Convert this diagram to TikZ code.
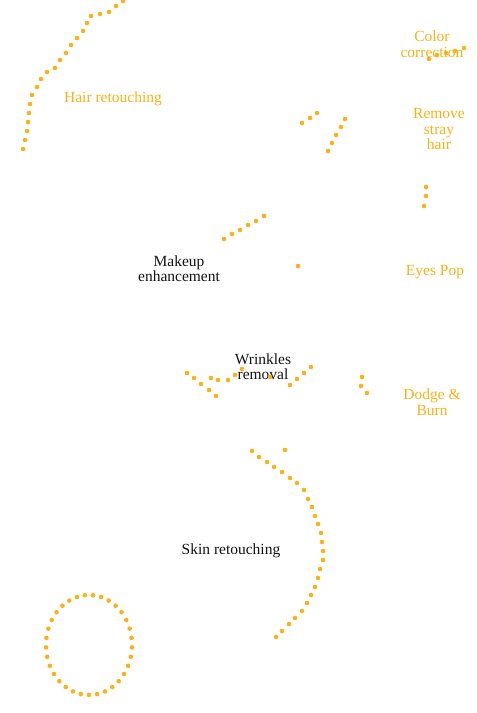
\documentclass[tikz,border=0pt]{standalone}
\usepackage{fontspec}
\setmainfont{Liberation Serif}
\usepackage{tikz}
\usetikzlibrary{positioning}
\definecolor{retouchorange}{RGB}{251,178,24}
\definecolor{labelblack}{RGB}{20,20,20}
\tikzset{
  dotmark/.style={fill=retouchorange},
  orangelabel/.style={text=retouchorange,inner sep=0pt,align=center,font=\fontsize{15.5}{15.5}\selectfont},
  blacklabel/.style={text=labelblack,inner sep=0pt,align=center,font=\fontsize{15.5}{15}\selectfont}
}
\begin{document}
\begin{tikzpicture}[x=1pt,y=-1pt]
        \useasboundingbox[fill=white] (0,0) rectangle (477,713);
        % labels
        \node[orangelabel] (hair) at (113,99) {Hair retouching};
        \node[orangelabel] (color) at (432,44) {Color\\correction};
        \node[orangelabel] (stray) at (439,129) {Remove\\stray\\hair};
        \node[orangelabel] (eyes) at (435,272) {Eyes Pop};
        \node[orangelabel] (dodge) at (432,402) {Dodge \&\\Burn};
        \node[blacklabel,font=\fontsize{15.5}{11}\selectfont] (makeup) at (179,269) {Makeup\\enhancement};
        \node[blacklabel] (wrinkles) at (263,367) {Wrinkles\\removal};
        \node[blacklabel] (skin) at (231,551) {Skin retouching};
        % dotted strokes
        \foreach \p in {(123,1),(116,6),(109,12),(100,14),(91,16),(87,23),(83,31),(77,38),(71,45),(66,53),(60,60),(55,68),(47,72),(41,79),(37,87),(32,95),(30,104),(29,113),(28,122),(27,131),(25,140),(23,149)}
          \fill[dotmark] \p circle (2.3pt);
        \foreach \p in {(429,59),(437,55),(446,53),(455,51),(464,48)}
          \fill[dotmark] \p circle (2.3pt);
        \foreach \p in {(302,123),(310,118),(317,113),(345,119),(341,127),(336,135),(332,143),(328,151)}
          \fill[dotmark] \p circle (2.3pt);
        \foreach \p in {(426,187),(426,196),(424,206),(298,266)}
          \fill[dotmark] \p circle (2.3pt);
        \foreach \p in {(224,239),(232,234),(240,230),(248,225),(256,221),(264,216)}
          \fill[dotmark] \p circle (2.3pt);
        \foreach \p in {(187,373),(194,378),(201,384),(209,390),(216,396),(211,378),(218,380),(228,380),(235,375),(242,369),(270,377),(290,385),(297,379),(304,373),(311,367)}
          \fill[dotmark] \p circle (2.3pt);
        \foreach \p in {(362,377),(361,386),(367,393)}
          \fill[dotmark] \p circle (2.3pt);
        \foreach \p in {(285,450),(252,451),(259,457),(267,462),(274,467),(282,472),(290,478),(297,483),(304,490),(308,499),(312,507),(315,516),(318,524),(321,533),(322,542),(323,551),(323,560),(320,569),(318,578),(315,587),(311,595),(307,603),(302,611),(295,618),(289,624),(282,631),(276,637)}
          \fill[dotmark] \p circle (2.3pt);
        % ring
        \foreach \a in {0,...,32}
          \fill[dotmark] ({89+43*cos(\a*360/33+90)},{645+50*sin(\a*360/33+90)}) circle (2.3pt);
      \end{tikzpicture}
\end{document}
